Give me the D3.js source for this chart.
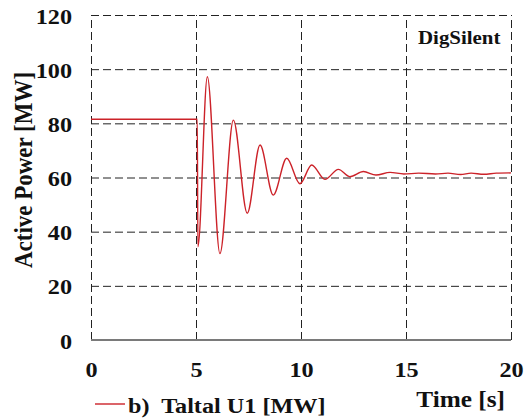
<!DOCTYPE html>
<html>
<head>
<meta charset="utf-8">
<script src="https://cdn.jsdelivr.net/npm/d3@7"></script>
<style>
  html, body { margin: 0; padding: 0; background: #fff; }
  svg { display: block; font-family: "Liberation Serif", "Times New Roman", serif; font-weight: bold; }
  svg text { font-family: "Liberation Serif", "Times New Roman", serif; font-weight: bold; }
</style>
</head>
<body>
<svg id="chart" width="527" height="419"></svg>
<script>
// Active power of Taltal U1 after the disturbance at t = 5 s (peaks and troughs of the swing)
const timeS = [0, 5.06, 5.09, 5.54, 6.14, 6.78, 7.44, 8.05, 8.68, 9.32, 9.95,
               10.51, 11.14, 11.78, 12.33, 12.97, 13.57, 14.24, 14.9, 15.6,
               16.4, 17.0, 17.6, 18.1, 18.7, 19.3, 20];
const powerMW = [81.5, 81.5, 34.4, 97.2, 31.9, 81.2, 46.8, 72.0, 53.5, 67.1, 57.7,
                 64.6, 59.3, 63.0, 60.3, 62.2, 60.9, 61.9, 61.3, 61.6,
                 61.3, 61.6, 61.1, 61.6, 61.2, 61.6, 61.7];

const xTicks = [0, 5, 10, 15, 20];
const yTicks = [0, 20, 40, 60, 80, 100, 120];
const seriesName = "b)  Taltal U1 [MW]";
const xTitle = "Time [s]";
const yTitle = "Active Power [MW]";
const note = "DigSilent";

const svg = d3.select("#chart");
const m = { left: 91, top: 15 };
const W = 420, H = 325;
const red = "#cc2229";
const stretch = "scale(1.1,1)";

const x = d3.scaleLinear().domain([0, 20]).range([0, W]);
const y = d3.scaleLinear().domain([0, 120]).range([H, 0]);

const g = svg.append("g").attr("transform", `translate(${m.left},${m.top})`);

// horizontal grid + y tick labels
const yAxis = g.append("g")
  .call(d3.axisLeft(y).tickValues(yTicks).tickSize(-W).tickPadding(19).tickFormat(d3.format("d")))
  .attr("font-family", null).attr("font-size", null);
yAxis.select(".domain").remove();
yAxis.selectAll(".tick line")
  .attr("stroke", "#222").attr("stroke-width", 1).attr("stroke-dasharray", "8,4");
yAxis.selectAll(".tick text")
  .attr("x", null).attr("dy", null)
  .attr("transform", `translate(-19,8) ${stretch}`)
  .attr("font-size", 22).attr("fill", "#111");

// vertical grid + x tick labels
const xAxis = g.append("g").attr("transform", `translate(0,${H})`)
  .call(d3.axisBottom(x).tickValues(xTicks).tickSize(-H).tickFormat(d3.format("d")))
  .attr("font-family", null).attr("font-size", null);
xAxis.select(".domain").remove();
xAxis.selectAll(".tick line")
  .attr("stroke", "#222").attr("stroke-width", 1).attr("stroke-dasharray", "8,4");
xAxis.selectAll(".tick text")
  .attr("y", null).attr("dy", null)
  .attr("transform", `translate(0,37) ${stretch}`)
  .attr("font-size", 22).attr("fill", "#111");

// solid baseline
g.append("line")
  .attr("x1", x(0)).attr("x2", x(20)).attr("y1", y(0)).attr("y2", y(0))
  .attr("stroke", "#7a7a7a").attr("stroke-width", 2);

// power trace
const line = d3.line()
  .x((d, i) => x(timeS[i]))
  .y(d => y(d))
  .curve(d3.curveMonotoneX);
g.append("path")
  .datum(powerMW)
  .attr("d", line)
  .attr("fill", "none")
  .attr("stroke", red)
  .attr("stroke-width", 1.4);

// note in upper right
svg.append("text")
  .attr("transform", `translate(418,44) ${stretch}`)
  .attr("font-size", 19).attr("fill", "#111")
  .text(note);

// y title
svg.append("text")
  .attr("transform", `translate(32,170) ${stretch} rotate(-90)`)
  .attr("text-anchor", "middle")
  .attr("font-size", 23).attr("fill", "#111")
  .text(yTitle);

// x title
svg.append("text")
  .attr("transform", `translate(505,407) ${stretch}`)
  .attr("text-anchor", "end")
  .attr("font-size", 23).attr("fill", "#111")
  .text(xTitle);

// legend
svg.append("line")
  .attr("x1", 95).attr("x2", 125).attr("y1", 404).attr("y2", 404)
  .attr("stroke", red).attr("stroke-width", 1.4);
svg.append("text")
  .attr("transform", `translate(128,413) ${stretch}`)
  .attr("font-size", 22).attr("fill", "#111")
  .style("white-space", "pre")
  .text(seriesName);
</script>
</body>
</html>
